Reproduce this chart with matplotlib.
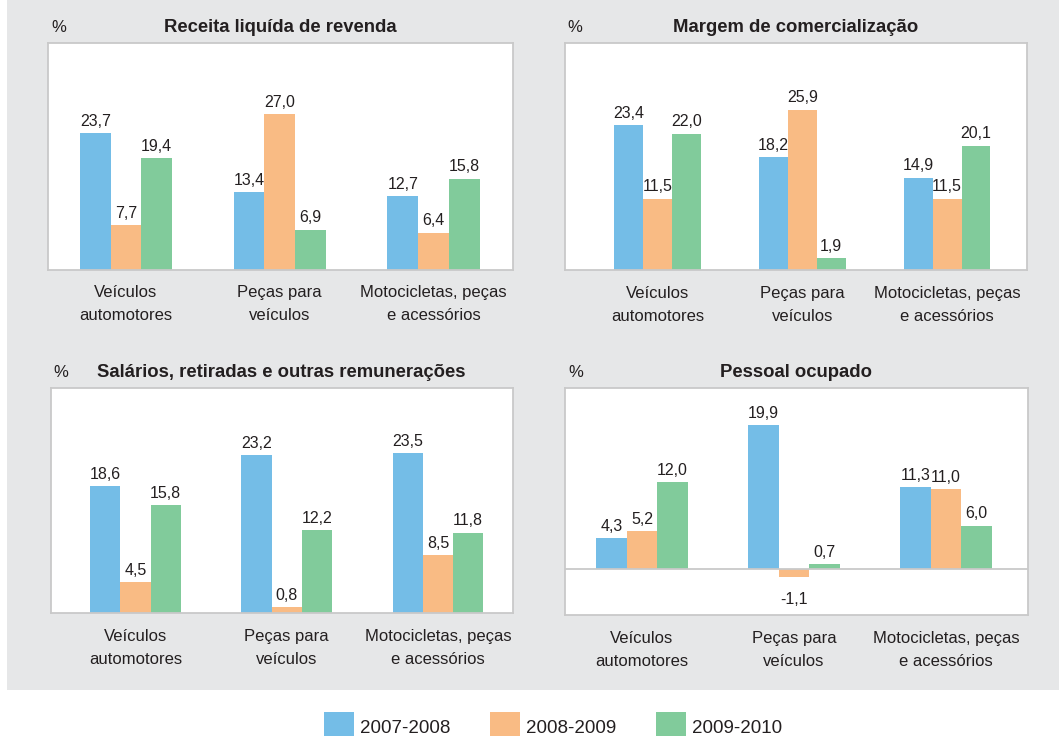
import matplotlib.pyplot as plt
from matplotlib.patches import Rectangle
import numpy as np

plt.rcParams['font.family'] = ['Liberation Sans', 'DejaVu Sans']
plt.rcParams['text.color'] = '#231f20'

#%% data
categories = ['Veículos\nautomotores', 'Peças para\nveículos', 'Motocicletas, peças\ne acessórios']
periods = ['2007-2008', '2008-2009', '2009-2010']
colors = ['#74bde7', '#f9bb84', '#81cb9b']

titles = ['Receita liquída de revenda', 'Margem de comercialização',
          'Salários, retiradas e outras remunerações', 'Pessoal ocupado']

# one list per period, values by category
receita = [[23.7, 13.4, 12.7], [7.7, 27.0, 6.4], [19.4, 6.9, 15.8]]
margem = [[23.4, 18.2, 14.9], [11.5, 25.9, 11.5], [22.0, 1.9, 20.1]]
salarios = [[18.6, 23.2, 23.5], [4.5, 0.8, 8.5], [15.8, 12.2, 11.8]]
pessoal = [[4.3, 19.9, 11.3], [5.2, -1.1, 11.0], [12.0, 0.7, 6.0]]
panels = [receita, margem, salarios, pessoal]

#%% layout (pixel boxes: left, top, right, bottom)
W, H = 1059, 736
boxes = [(48.3, 43.3, 512.7, 269.5), (564.7, 43.3, 1026.7, 270),
         (50.7, 388, 512.7, 612.7), (565, 388, 1028, 615)]
ylims = [(0, 39.3), (0, 36.6), (0, 33.1), (-6.35, 25.0)]
xlims = [(-0.505, 2.515), (-0.64, 2.55), (-0.56, 2.494), (-0.507, 2.54)]
border = '#c9c9c9'

fig = plt.figure(figsize=(W/100, H/100), dpi=100)
fig.patch.set_facecolor('white')
fig.patches.append(Rectangle((7/W, 1-690/H), 1, 690/H, transform=fig.transFigure,
                             facecolor='#e6e7e8', edgecolor='none', zorder=-5))

x = np.arange(len(categories))
w = 0.2
handles = []
for k, (data, title, box) in enumerate(zip(panels, titles, boxes)):
    l, t, r, b = box
    ax = fig.add_axes([l/W, 1-b/H, (r-l)/W, (b-t)/H])
    ax.set_facecolor('white')
    for i, vals in enumerate(data):
        bars = ax.bar(x + (i-1)*w, vals, width=w, color=colors[i], label=periods[i], zorder=2)
        if k == 0:
            handles.append(bars)
        for xi, v in zip(x + (i-1)*w, vals):
            txt = ('%.1f' % v).replace('.', ',')
            if v >= 0:
                ax.annotate(txt, (xi, v), xytext=(0, 8.5), textcoords='offset points',
                            ha='center', va='center', fontsize=11.5)
            else:
                ax.annotate(txt, (xi, v), xytext=(0, -16), textcoords='offset points',
                            ha='center', va='center', fontsize=11.5)
    if ylims[k][0] < 0:
        ax.axhline(0, color=border, lw=1.3, zorder=3)
    ax.set_ylim(*ylims[k])
    ax.set_xlim(*xlims[k])
    ax.set_yticks([])
    ax.set_xticks(x)
    ax.set_xticklabels(categories, fontsize=12, linespacing=1.66, color='#231f20')
    ax.tick_params(axis='x', length=0, pad=11.5)
    for s in ax.spines.values():
        s.set_color(border)
        s.set_linewidth(1.3)
    ax.annotate(title, xy=(0.5, 1), xycoords='axes fraction', xytext=(0, 11.5),
                textcoords='offset points', ha='center', va='center',
                fontsize=13.3, fontweight='bold')
    ax.annotate('%', xy=(0, 1), xycoords='axes fraction', xytext=(7.5, 11.5),
                textcoords='offset points', ha='center', va='center', fontsize=12)

fig.legend(handles=handles, labels=periods, loc='center', bbox_to_anchor=(553/W, 1-727/H),
           ncol=3, frameon=False, fontsize=13.5, handlelength=1.6, handleheight=2.1,
           handletextpad=0.32, columnspacing=2.1, borderpad=0, borderaxespad=0)

fig.savefig('out.png', dpi=100)
